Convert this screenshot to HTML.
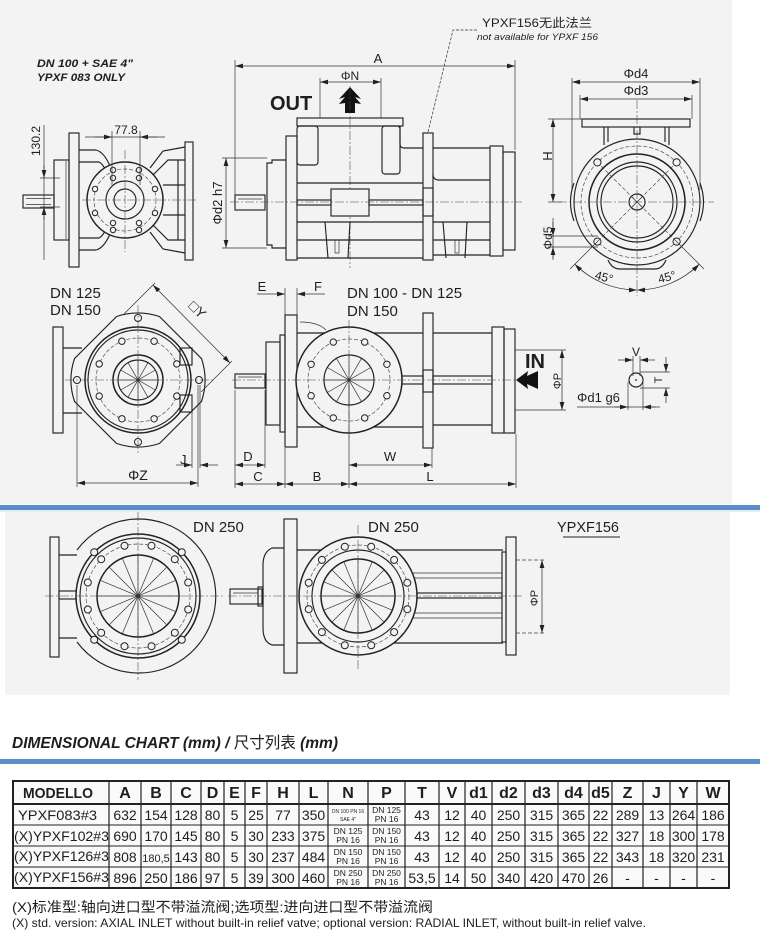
<!DOCTYPE html>
<html><head><meta charset="utf-8"><style>
html,body{margin:0;padding:0;background:#fff;}
svg{display:block}
text{font-family:"Liberation Sans","Noto Sans CJK SC",sans-serif;fill:#1e1e1e;}
.o{fill:none;stroke:#222;stroke-width:1.15}
.ob{fill:#f3f3f3;stroke:#222;stroke-width:1.5}
.of{fill:#f3f3f3;stroke:#222;stroke-width:1.15}
.t{fill:none;stroke:#333;stroke-width:0.7}
.c{fill:none;stroke:#444;stroke-width:0.55;stroke-dasharray:9,2,2,2}
.dc{fill:none;stroke:#444;stroke-width:0.65;stroke-dasharray:4,2}
.d{fill:none;stroke:#333;stroke-width:0.75;marker-start:url(#a);marker-end:url(#a)}
.e{fill:none;stroke:#333;stroke-width:0.75;marker-end:url(#a)}
.b{fill:#f3f3f3;stroke:#222;stroke-width:1}
.tl{fill:none;stroke:#222;stroke-width:1}
</style></head><body>
<svg width="778" height="940" viewBox="0 0 778 940" xmlns="http://www.w3.org/2000/svg">
<defs>
<marker id="a" viewBox="0 0 10 6" refX="10" refY="3" markerWidth="8" markerHeight="4.8" orient="auto-start-reverse" markerUnits="userSpaceOnUse"><path d="M0,0 L10,3 L0,6 z" fill="#222"/></marker>
</defs>

<!-- backgrounds -->
<rect x="0" y="0" width="732" height="504" fill="#f3f3f3"/>
<rect x="0" y="505" width="760" height="5" fill="#5b8ec5"/>
<rect x="0" y="510" width="760" height="2" fill="#e3ecf2"/>
<rect x="5" y="512" width="725" height="183" fill="#f3f3f3"/>
<rect x="0" y="759" width="760" height="5" fill="#5b8ec5"/>

<!-- ============ TOP-LEFT VIEW ============ -->
<text x="37" y="67" font-size="11" font-weight="bold" font-style="italic" textLength="96" lengthAdjust="spacingAndGlyphs">DN 100 + SAE 4"</text>
<text x="37" y="81" font-size="11" font-weight="bold" font-style="italic" textLength="88" lengthAdjust="spacingAndGlyphs">YPXF 083 ONLY</text>
<rect class="o" x="23" y="195" width="31" height="13"/>
<line class="t" x1="26" y1="198.5" x2="51" y2="198.5"/>
<line class="t" x1="26" y1="204.5" x2="51" y2="204.5"/>
<rect class="o" x="54" y="160" width="15" height="80"/>
<line class="t" x1="66" y1="161" x2="66" y2="239"/>
<rect class="o" x="69" y="133" width="10" height="134"/>
<rect class="o" x="185" y="142" width="8" height="118"/>
<path class="o" d="M79,150 L96,150 Q104,152 110,166 M79,162 L99,162 Q103,164 106,171 M150,168 L163,151 L185,147 M152,176 L168,160 L185,160"/>
<path class="o" d="M79,250 L96,250 Q104,248 110,234 M79,238 L99,238 Q103,236 106,229 M150,232 L163,249 L185,253 M152,224 L168,240 L185,240"/>
<path class="o" d="M163,185 L185,185 M163,215 L185,215 M178,160 L178,240"/>
<circle class="ob" cx="125" cy="200" r="38"/>
<circle class="dc" cx="125" cy="200" r="31"/>
<circle class="o" cx="125" cy="200" r="19"/>
<circle class="o" cx="125" cy="200" r="11"/>
<g class="b">
<circle cx="95" cy="189" r="2.7"/><circle cx="155" cy="189" r="2.7"/><circle cx="95" cy="213" r="2.7"/><circle cx="155" cy="213" r="2.7"/>
<circle cx="113" cy="170" r="2.7"/><circle cx="113" cy="178" r="2.7"/><circle cx="139" cy="170" r="2.7"/><circle cx="139" cy="178" r="2.7"/>
<circle cx="113" cy="223" r="2.7"/><circle cx="113" cy="230" r="2.7"/><circle cx="139" cy="223" r="2.7"/><circle cx="139" cy="230" r="2.7"/>
</g>
<line class="c" x1="82" y1="200" x2="196" y2="200"/>
<line class="c" x1="125" y1="150" x2="125" y2="252"/>
<text x="126" y="134" font-size="12" text-anchor="middle">77.8</text>
<line class="t" x1="85" y1="137" x2="165" y2="137"/>
<line class="e" x1="95" y1="137" x2="112" y2="137"/>
<line class="e" x1="157" y1="137" x2="140" y2="137"/>
<line class="t" x1="112" y1="131" x2="112" y2="185"/>
<line class="t" x1="140" y1="131" x2="140" y2="185"/>
<text transform="translate(40,141) rotate(-90)" font-size="12" text-anchor="middle">130.2</text>
<line class="t" x1="44" y1="125" x2="44" y2="260"/>
<line class="e" x1="44" y1="165" x2="44" y2="178"/>
<line class="e" x1="44" y1="220" x2="44" y2="207"/>
<line class="t" x1="40" y1="178" x2="60" y2="178"/>
<line class="t" x1="40" y1="207" x2="60" y2="207"/>

<!-- ============ TOP-MIDDLE SIDE VIEW ============ -->
<text x="378" y="63" font-size="13" text-anchor="middle">A</text>
<line class="d" x1="235" y1="66" x2="515" y2="66"/>
<line class="t" x1="235" y1="60" x2="235" y2="200"/>
<line class="t" x1="515" y1="60" x2="515" y2="150"/>
<text x="350" y="80" font-size="12" text-anchor="middle">ΦN</text>
<line class="d" x1="320" y1="82" x2="381" y2="82"/>
<line class="t" x1="320" y1="78" x2="320" y2="118"/>
<line class="t" x1="381" y1="78" x2="381" y2="118"/>
<text x="270" y="110" font-size="20" font-weight="bold">OUT</text>
<polygon points="350,87 361,99 355,97 361,104 355,103 355,113 345,113 345,103 339,104 345,97 339,99" fill="#111"/>
<line class="c" x1="350" y1="86" x2="350" y2="268"/>
<!-- leader -->
<path class="t" d="M477,30 L453,30 L428,132" stroke-dasharray="3,1.5"/>
<text x="482" y="27" font-size="12" font-family="'Liberation Serif','Noto Serif CJK SC',serif" textLength="110" lengthAdjust="spacingAndGlyphs">YPXF156无此法兰</text>
<text x="477" y="40" font-size="9" font-style="italic" textLength="121" lengthAdjust="spacingAndGlyphs">not available for YPXF 156</text>

<rect class="o" x="235" y="195" width="30" height="15"/>
<line class="t" x1="238" y1="199" x2="262" y2="199"/>
<path class="o" d="M286,160 L272,160 L272,163 L267,163 L267,245 L272,245 L272,248 L286,248"/>
<rect class="o" x="286" y="136" width="11" height="124"/>
<rect class="o" x="297" y="118" width="106" height="8"/>
<path class="o" d="M400,126 L400,144 Q400,148 404,148 L423,148"/>
<rect class="o" x="297" y="126" width="21" height="39" rx="3"/>
<rect class="o" x="382" y="126" width="18" height="48" rx="3"/>
<line class="o" x1="297" y1="183" x2="423" y2="183"/>
<line class="o" x1="297" y1="222" x2="423" y2="222"/>
<line class="o" x1="297" y1="240" x2="423" y2="240"/>
<line class="o" x1="297" y1="258" x2="423" y2="258"/>
<path class="o" d="M325,222 L328,258 M350,222 L348,258"/>
<rect class="t" x="335" y="240" width="4" height="13"/>
<path class="o" d="M443,222 L446,258 M467,222 L465,258"/>
<rect class="t" x="455" y="240" width="4" height="13"/>
<rect class="o" x="423" y="133" width="10" height="127"/>
<rect class="o" x="423" y="188" width="10" height="28"/>
<line class="o" x1="433" y1="148" x2="490" y2="148"/>
<path class="o" d="M433,174 Q433,180 439,180 L490,180"/>
<line class="o" x1="433" y1="222" x2="490" y2="222"/>
<line class="o" x1="433" y1="240" x2="490" y2="240"/>
<line class="o" x1="433" y1="255" x2="490" y2="255"/>
<rect class="o" x="490" y="146" width="13" height="110"/>
<rect class="o" x="503" y="152" width="12" height="98"/>
<rect class="of" x="331" y="189" width="38" height="27"/>
<rect class="o" x="297" y="200" width="34" height="5"/>
<rect class="o" x="369" y="200" width="54" height="5"/>
<line class="c" x1="230" y1="202" x2="522" y2="202"/>
<text transform="translate(222,203) rotate(-90)" font-size="13" text-anchor="middle">Φd2 h7</text>
<line class="d" x1="226" y1="158" x2="226" y2="248"/>
<line class="t" x1="222" y1="158" x2="267" y2="158"/>
<line class="t" x1="222" y1="248" x2="267" y2="248"/>

<!-- ============ TOP-RIGHT END VIEW ============ -->
<text x="636" y="78" font-size="13" text-anchor="middle">Φd4</text>
<text x="636" y="95" font-size="13" text-anchor="middle">Φd3</text>
<line class="d" x1="572" y1="82" x2="700" y2="82"/>
<line class="d" x1="580" y1="99" x2="692" y2="99"/>
<line class="t" x1="572" y1="78" x2="572" y2="190"/>
<line class="t" x1="700" y1="78" x2="700" y2="190"/>
<line class="t" x1="580" y1="95" x2="580" y2="119"/>
<line class="t" x1="692" y1="95" x2="692" y2="119"/>
<rect class="o" x="582" y="119" width="108" height="8"/>
<path class="o" d="M604,127 L604,145 M608,127 L608,142 M665,127 L665,142 M669,127 L669,145 M634,127 L634,134 L640,134 L640,127"/>
<text transform="translate(552,156) rotate(-90)" font-size="13" text-anchor="middle">H</text>
<line class="d" x1="553" y1="119" x2="553" y2="202"/>
<line class="t" x1="548" y1="119" x2="582" y2="119"/>
<line class="t" x1="548" y1="202" x2="562" y2="202"/>
<path class="o" d="M574,183 Q567,202 574,221 M700,183 Q707,202 700,221"/>
<path class="o" d="M608,260 Q612,269 620,269 L655,269 Q662,269 666,260"/>
<circle class="of" cx="637" cy="202" r="63"/>
<circle class="dc" cx="637" cy="202" r="56"/>
<circle class="ob" cx="637" cy="202" r="48"/>
<circle class="o" cx="637" cy="202" r="40"/>
<circle class="o" cx="637" cy="202" r="36"/>
<path class="dc" d="M597,162 L677,242 M677,162 L597,242"/>
<circle class="o" cx="637" cy="202" r="8"/>
<path class="t" d="M632,197 L642,207 M642,197 L632,207"/>
<g class="b"><circle cx="597.4" cy="162.4" r="3.6"/><circle cx="676.6" cy="162.4" r="3.6"/><circle cx="597.4" cy="241.6" r="3.6"/><circle cx="676.6" cy="241.6" r="3.6"/></g>
<line class="c" x1="558" y1="202" x2="714" y2="202"/>
<line class="c" x1="637" y1="100" x2="637" y2="296"/>
<path class="t" d="M600,239 L570,269 M674,239 L704,269"/>
<path class="d" d="M574.8,264.2 A88,88 0 0 0 637,290"/>
<path class="d" d="M637,290 A88,88 0 0 0 699.2,264.2"/>
<text transform="translate(603,281) rotate(15)" font-size="12" text-anchor="middle">45°</text>
<text transform="translate(668,281) rotate(-15)" font-size="12" text-anchor="middle">45°</text>
<text transform="translate(552,238) rotate(-90)" font-size="12" text-anchor="middle">Φd5</text>
<line class="t" x1="553" y1="218" x2="553" y2="260"/>
<line class="e" x1="553" y1="222" x2="553" y2="236"/>
<line class="e" x1="553" y1="258" x2="553" y2="247"/>
<line class="t" x1="548" y1="236" x2="598" y2="236"/>
<line class="t" x1="548" y1="247" x2="598" y2="247"/>

<!-- ============ MIDDLE-LEFT VIEW ============ -->
<text x="50" y="298" font-size="15">DN 125</text>
<text x="50" y="315" font-size="15">DN 150</text>
<rect class="o" x="53" y="327" width="10" height="106"/>
<path class="o" d="M63,348 L82,348 M63,413 L82,413"/>
<path class="of" d="M201.5,358.6 A67,67 0 0 1 201.5,401.4 L159.4,443.5 A67,67 0 0 1 116.6,443.5 L74.5,401.4 A67,67 0 0 1 74.5,358.6 L116.6,316.5 A67,67 0 0 1 159.4,316.5 Z"/>
<circle class="ob" cx="138" cy="380" r="53"/>
<circle class="o" cx="138" cy="380" r="50"/>
<circle class="dc" cx="138" cy="380" r="42"/>
<circle class="ob" cx="138" cy="380" r="25"/>
<circle class="o" cx="138" cy="380" r="20"/>
<path class="t" d="M118,380 L158,380 M120.7,370 L155.3,390 M128,362.7 L148,397.3 M138,360 L138,400 M148,362.7 L128,397.3 M155.3,370 L120.7,390"/>
<g class="b">
<circle cx="176.8" cy="396.1" r="3.2"/><circle cx="154.1" cy="418.8" r="3.2"/><circle cx="121.9" cy="418.8" r="3.2"/><circle cx="99.2" cy="396.1" r="3.2"/>
<circle cx="99.2" cy="363.9" r="3.2"/><circle cx="121.9" cy="341.2" r="3.2"/><circle cx="154.1" cy="341.2" r="3.2"/><circle cx="176.8" cy="363.9" r="3.2"/>
<circle cx="138" cy="318" r="3.5"/><circle cx="138" cy="442" r="3.5"/><circle cx="77" cy="380" r="3.5"/><circle cx="199" cy="380" r="3.5"/>
</g>
<rect class="o" x="180" y="348" width="12" height="17"/>
<rect class="o" x="180" y="395" width="12" height="17"/>
<line class="c" x1="65" y1="380" x2="215" y2="380"/>
<line class="c" x1="138" y1="305" x2="138" y2="455"/>
<line class="d" x1="153" y1="285" x2="230" y2="363"/>
<line class="t" x1="155" y1="283" x2="124" y2="314"/>
<line class="t" x1="232" y1="361" x2="201" y2="392"/>
<text transform="translate(194,313) rotate(45)" font-size="14" text-anchor="middle">□Y</text>
<text x="180" y="464" font-size="13">J</text>
<line class="t" x1="192" y1="395" x2="192" y2="468"/>
<line class="t" x1="200" y1="385" x2="200" y2="468"/>
<line class="e" x1="176" y1="465" x2="192" y2="465"/>
<line class="e" x1="218" y1="465" x2="200" y2="465"/>
<text x="138" y="480" font-size="14" text-anchor="middle">ΦZ</text>
<line class="d" x1="77" y1="483" x2="198" y2="483"/>
<line class="t" x1="77" y1="385" x2="77" y2="487"/>
<line class="t" x1="198" y1="385" x2="198" y2="487"/>

<!-- ============ MIDDLE-RIGHT VIEW ============ -->
<text x="347" y="298" font-size="15">DN 100 - DN 125</text>
<text x="347" y="316" font-size="15">DN 150</text>
<text x="262" y="291" font-size="13" text-anchor="middle">E</text>
<text x="318" y="291" font-size="13" text-anchor="middle">F</text>
<line class="e" x1="257" y1="294" x2="285" y2="294"/>
<line class="e" x1="325" y1="294" x2="297" y2="294"/>
<line class="t" x1="285" y1="288" x2="285" y2="315"/>
<line class="t" x1="297" y1="288" x2="297" y2="315"/>
<rect class="o" x="285" y="315" width="12" height="132"/>
<rect class="o" x="266" y="342" width="14" height="83"/>
<rect class="o" x="280" y="335" width="5" height="97"/>
<rect class="o" x="235" y="374" width="30" height="14"/>
<line class="t" x1="238" y1="377" x2="262" y2="377"/>
<path class="o" d="M297,333 L423,333 M297,427 L423,427"/>
<path class="t" d="M300,322 Q318,322 326,330"/>
<rect class="o" x="423" y="313" width="10" height="135"/>
<rect class="o" x="423" y="370" width="10" height="22"/>
<path class="o" d="M433,333 L492,333 M433,425 L492,425"/>
<rect class="o" x="402" y="376" width="21" height="8"/>
<rect class="o" x="433" y="376" width="59" height="8"/>
<rect class="o" x="492" y="327" width="12" height="106"/>
<rect class="o" x="504" y="329" width="11" height="104"/>
<circle class="ob" cx="349" cy="380" r="53"/>
<circle class="dc" cx="349" cy="380" r="41"/>
<circle class="o" cx="349" cy="380" r="25"/>
<path class="t" d="M324,380 L374,380 M327.3,367.5 L370.7,392.5 M336.5,358.3 L361.5,401.7 M349,355 L349,405 M361.5,358.3 L336.5,401.7 M370.7,367.5 L327.3,392.5"/>
<g class="b">
<circle cx="386.9" cy="395.7" r="3.2"/><circle cx="364.7" cy="417.9" r="3.2"/><circle cx="333.3" cy="417.9" r="3.2"/><circle cx="311.1" cy="395.7" r="3.2"/>
<circle cx="311.1" cy="364.3" r="3.2"/><circle cx="333.3" cy="342.1" r="3.2"/><circle cx="364.7" cy="342.1" r="3.2"/><circle cx="386.9" cy="364.3" r="3.2"/>
</g>
<line class="c" x1="232" y1="380" x2="525" y2="380"/>
<line class="c" x1="349" y1="320" x2="349" y2="440"/>
<!-- dims -->
<text x="248" y="461" font-size="13" text-anchor="middle">D</text>
<line class="d" x1="235" y1="465" x2="265" y2="465"/>
<text x="258" y="481" font-size="13" text-anchor="middle">C</text>
<line class="d" x1="235" y1="484" x2="285" y2="484"/>
<text x="317" y="481" font-size="13" text-anchor="middle">B</text>
<line class="d" x1="285" y1="484" x2="349" y2="484"/>
<text x="430" y="481" font-size="13" text-anchor="middle">L</text>
<line class="d" x1="349" y1="484" x2="516" y2="484"/>
<text x="390" y="461" font-size="13" text-anchor="middle">W</text>
<line class="d" x1="349" y1="465" x2="432" y2="465"/>
<path class="t" d="M235,390 L235,488 M265,390 L265,468 M285,448 L285,488 M349,385 L349,488 M432,448 L432,468 M516,434 L516,488"/>
<text x="525" y="368" font-size="20" font-weight="bold">IN</text>
<polygon points="516,380 528,371 527,376 538,371 538,389 527,384 528,389" fill="#111"/>
<line class="d" x1="562" y1="350" x2="562" y2="410"/>
<path class="t" d="M515,350 L566,350 M515,410 L566,410"/>
<text transform="translate(561,381) rotate(-90)" font-size="11" text-anchor="middle">ΦP</text>
<circle class="o" cx="636" cy="380" r="7"/>
<circle cx="636" cy="380" r="0.9" fill="#222"/>
<text x="636" y="356" font-size="12" text-anchor="middle">V</text>
<line class="e" x1="618" y1="360" x2="633" y2="360"/>
<line class="e" x1="655" y1="360" x2="640" y2="360"/>
<path class="t" d="M633,356 L633,376 M640,356 L640,376"/>
<line class="e" x1="666" y1="357" x2="666" y2="372"/>
<line class="e" x1="666" y1="403" x2="666" y2="388"/>
<path class="t" d="M640,372 L670,372 M640,388 L670,388"/>
<text transform="translate(662,380) rotate(-90)" font-size="11" text-anchor="middle">T</text>
<text x="577" y="402" font-size="13">Φd1 g6</text>
<line class="t" x1="577" y1="407" x2="660" y2="407"/>
<line class="e" x1="615" y1="407" x2="628" y2="407"/>
<line class="e" x1="656" y1="407" x2="643" y2="407"/>
<path class="t" d="M628,382 L628,410 M643,382 L643,410"/>

<!-- ============ BOTTOM LEFT (DN250) ============ -->
<text x="193" y="532" font-size="15">DN 250</text>
<rect class="o" x="50" y="537" width="9" height="120"/>
<path class="o" d="M59,555 L82,555 M59,638 L82,638"/>
<rect class="o" x="59" y="591" width="19" height="8"/>
<path class="of" d="M77,550 A77,77 0 1 1 77,642"/>
<circle class="ob" cx="138" cy="596" r="62"/>
<circle class="o" cx="138" cy="596" r="58"/>
<circle class="dc" cx="138" cy="596" r="52"/>
<circle class="ob" cx="138" cy="596" r="41"/>
<path class="t" d="M97,596 L179,596 M100.1,580.3 L175.9,611.7 M109,567 L167,625 M122.3,558.1 L153.7,633.9 M138,555 L138,637 M153.7,558.1 L122.3,633.9 M167,567 L109,625 M175.9,580.3 L100.1,611.7"/>
<g class="b">
<circle cx="188.2" cy="609.5" r="3.5"/><circle cx="174.8" cy="632.8" r="3.5"/><circle cx="151.5" cy="646.2" r="3.5"/><circle cx="124.5" cy="646.2" r="3.5"/>
<circle cx="101.2" cy="632.8" r="3.5"/><circle cx="87.8" cy="609.5" r="3.5"/><circle cx="87.8" cy="582.5" r="3.5"/><circle cx="101.2" cy="559.2" r="3.5"/>
<circle cx="124.5" cy="545.8" r="3.5"/><circle cx="151.5" cy="545.8" r="3.5"/><circle cx="174.8" cy="559.2" r="3.5"/><circle cx="188.2" cy="582.5" r="3.5"/>
<circle cx="94.2" cy="552.2" r="3.5"/><circle cx="181.8" cy="552.2" r="3.5"/><circle cx="94.2" cy="639.8" r="3.5"/><circle cx="181.8" cy="639.8" r="3.5"/>
</g>
<line class="c" x1="45" y1="596" x2="225" y2="596"/>
<line class="c" x1="138" y1="512" x2="138" y2="680"/>

<!-- ============ BOTTOM RIGHT (DN250 side) ============ -->
<text x="368" y="532" font-size="15">DN 250</text>
<text x="557" y="532" font-size="15" textLength="62" lengthAdjust="spacingAndGlyphs">YPXF156</text>
<line class="tl" x1="563" y1="537" x2="620" y2="537"/>
<rect class="o" x="284" y="519" width="13" height="154"/>
<path class="o" d="M284,548 L272,548 Q263,552 263,565 L263,628 Q263,642 272,645 L284,645"/>
<rect class="o" x="230" y="589" width="32" height="15"/>
<line class="t" x1="233" y1="593" x2="258" y2="593"/>
<rect class="o" x="258" y="587" width="5" height="19"/>
<path class="o" d="M297,550 L503,550 M297,643 L503,643"/>
<path class="t" d="M395,573 L502,573 M395,578 L502,578 M395,613 L502,613 M395,618 L502,618"/>
<rect class="o" x="417" y="593" width="85" height="5"/>
<rect class="o" x="502" y="552" width="4" height="90"/>
<rect class="o" x="506" y="537" width="10" height="118"/>
<path class="dc" d="M516,560 L545,560 M516,633 L545,633"/>
<line class="d" x1="542" y1="560" x2="542" y2="633"/>
<text transform="translate(538,598) rotate(-90)" font-size="11" text-anchor="middle">ΦP</text>
<circle class="ob" cx="358" cy="596" r="59"/>
<circle class="dc" cx="358" cy="596" r="51"/>
<circle class="o" cx="358" cy="596" r="46"/>
<circle class="ob" cx="358" cy="596" r="37"/>
<path class="t" d="M321,596 L395,596 M323.8,581.8 L392.2,610.2 M331.8,569.8 L384.2,622.2 M343.8,561.8 L372.2,630.2 M358,559 L358,633 M372.2,561.8 L343.8,630.2 M384.2,569.8 L331.8,622.2 M392.2,581.8 L323.8,610.2"/>
<g class="b">
<circle cx="407.3" cy="609.2" r="3.5"/><circle cx="394.1" cy="632.1" r="3.5"/><circle cx="371.2" cy="645.3" r="3.5"/><circle cx="344.8" cy="645.3" r="3.5"/>
<circle cx="321.9" cy="632.1" r="3.5"/><circle cx="308.7" cy="609.2" r="3.5"/><circle cx="308.7" cy="582.8" r="3.5"/><circle cx="321.9" cy="559.9" r="3.5"/>
<circle cx="344.8" cy="546.7" r="3.5"/><circle cx="371.2" cy="546.7" r="3.5"/><circle cx="394.1" cy="559.9" r="3.5"/><circle cx="407.3" cy="582.8" r="3.5"/>
</g>
<line class="c" x1="228" y1="596" x2="522" y2="596"/>
<line class="c" x1="358" y1="525" x2="358" y2="670"/>

<!-- ============ TABLE ============ -->
<text x="12" y="748" font-size="16" font-style="italic" font-weight="bold" textLength="326" lengthAdjust="spacingAndGlyphs">DIMENSIONAL CHART (mm) / <tspan font-weight="normal" font-style="normal">尺寸列表</tspan> (mm)</text>

<rect x="13" y="781" width="716" height="107" fill="#fafafa"/>
<g stroke="#222" fill="none">
<path stroke-width="1" d="M13,825 L729,825 M13,846 L729,846 M13,867 L729,867"/>
<path stroke-width="2" d="M13,804 L729,804"/>
<path stroke-width="1.2" d="M109,781 V888 M141,781 V888 M171,781 V888 M201,781 V888 M224,781 V888 M245,781 V888 M267,781 V888 M299,781 V888 M328,781 V888 M368,781 V888 M405,781 V888 M439,781 V888 M465,781 V888 M492,781 V888 M525,781 V888 M558,781 V888 M589,781 V888 M612,781 V888 M643,781 V888 M670,781 V888 M697,781 V888"/>
<rect x="13" y="781" width="716" height="107" stroke-width="2"/>
</g>
<g font-size="16" font-weight="bold" text-anchor="middle">
<text x="23" y="798" text-anchor="start" font-size="15" textLength="70" lengthAdjust="spacingAndGlyphs">MODELLO</text>
<text x="125" y="798">A</text><text x="156" y="798">B</text><text x="186" y="798">C</text><text x="212.5" y="798">D</text><text x="234.5" y="798">E</text><text x="256" y="798">F</text><text x="283" y="798">H</text><text x="313.5" y="798">L</text><text x="348" y="798">N</text><text x="386.5" y="798">P</text><text x="422" y="798">T</text><text x="452" y="798">V</text><text x="478.5" y="798">d1</text><text x="508.5" y="798">d2</text><text x="541.5" y="798">d3</text><text x="573.5" y="798">d4</text><text x="600.5" y="798">d5</text><text x="627.5" y="798">Z</text><text x="656.5" y="798">J</text><text x="683.5" y="798">Y</text><text x="713" y="798">W</text>
</g>
<g font-size="14" text-anchor="middle">
<text x="18" y="820" text-anchor="start" textLength="79" lengthAdjust="spacingAndGlyphs">YPXF083#3</text>
<text x="125" y="820">632</text><text x="156" y="820">154</text><text x="186" y="820">128</text><text x="212.5" y="820">80</text><text x="234.5" y="820">5</text><text x="256" y="820">25</text><text x="283" y="820">77</text><text x="313.5" y="820">350</text>
<text x="422" y="820">43</text><text x="452" y="820">12</text><text x="478.5" y="820">40</text><text x="508.5" y="820">250</text><text x="541.5" y="820">315</text><text x="573.5" y="820">365</text><text x="600.5" y="820">22</text><text x="627.5" y="820">289</text><text x="656.5" y="820">13</text><text x="683.5" y="820">264</text><text x="713" y="820">186</text>

<text x="14" y="841" text-anchor="start" textLength="95" lengthAdjust="spacingAndGlyphs">(X)YPXF102#3</text>
<text x="125" y="841">690</text><text x="156" y="841">170</text><text x="186" y="841">145</text><text x="212.5" y="841">80</text><text x="234.5" y="841">5</text><text x="256" y="841">30</text><text x="283" y="841">233</text><text x="313.5" y="841">375</text>
<text x="422" y="841">43</text><text x="452" y="841">12</text><text x="478.5" y="841">40</text><text x="508.5" y="841">250</text><text x="541.5" y="841">315</text><text x="573.5" y="841">365</text><text x="600.5" y="841">22</text><text x="627.5" y="841">327</text><text x="656.5" y="841">18</text><text x="683.5" y="841">300</text><text x="713" y="841">178</text>

<text x="14" y="861" text-anchor="start" textLength="95" lengthAdjust="spacingAndGlyphs">(X)YPXF126#3</text>
<text x="125" y="862">808</text><text x="156" y="862" font-size="11">180,5</text><text x="186" y="862">143</text><text x="212.5" y="862">80</text><text x="234.5" y="862">5</text><text x="256" y="862">30</text><text x="283" y="862">237</text><text x="313.5" y="862">484</text>
<text x="422" y="862">43</text><text x="452" y="862">12</text><text x="478.5" y="862">40</text><text x="508.5" y="862">250</text><text x="541.5" y="862">315</text><text x="573.5" y="862">365</text><text x="600.5" y="862">22</text><text x="627.5" y="862">343</text><text x="656.5" y="862">18</text><text x="683.5" y="862">320</text><text x="713" y="862">231</text>

<text x="14" y="882" text-anchor="start" textLength="95" lengthAdjust="spacingAndGlyphs">(X)YPXF156#3</text>
<text x="125" y="883">896</text><text x="156" y="883">250</text><text x="186" y="883">186</text><text x="212.5" y="883">97</text><text x="234.5" y="883">5</text><text x="256" y="883">39</text><text x="283" y="883">300</text><text x="313.5" y="883">460</text>
<text x="422" y="883">53,5</text><text x="452" y="883">14</text><text x="478.5" y="883">50</text><text x="508.5" y="883">340</text><text x="541.5" y="883">420</text><text x="573.5" y="883">470</text><text x="600.5" y="883">26</text><text x="627.5" y="883">-</text><text x="656.5" y="883">-</text><text x="683.5" y="883">-</text><text x="713" y="883">-</text>
</g>
<g font-size="8.5" text-anchor="middle">
<text x="348" y="813" font-size="5">DN 100 PN 16</text><text x="348" y="821" font-size="5">SAE 4"</text>
<text x="386.5" y="813">DN 125</text><text x="386.5" y="822">PN 16</text>
<text x="348" y="834">DN 125</text><text x="348" y="843">PN 16</text>
<text x="386.5" y="834">DN 150</text><text x="386.5" y="843">PN 16</text>
<text x="348" y="855">DN 150</text><text x="348" y="864">PN 16</text>
<text x="386.5" y="855">DN 150</text><text x="386.5" y="864">PN 16</text>
<text x="348" y="876">DN 250</text><text x="348" y="885">PN 16</text>
<text x="386.5" y="876">DN 250</text><text x="386.5" y="885">PN 16</text>
</g>

<text x="12" y="912" font-size="14" font-family="'Liberation Serif','Noto Serif CJK SC',serif" fill="#333" textLength="421" lengthAdjust="spacingAndGlyphs">(X)标准型:轴向进口型不带溢流阀;选项型:进向进口型不带溢流阀</text>
<text x="12" y="927" font-size="12" textLength="634" lengthAdjust="spacingAndGlyphs">(X) std. version: AXIAL INLET without built-in relief vatve; optional version: RADIAL INLET, without built-in relief valve.</text>
</svg>
</body></html>
